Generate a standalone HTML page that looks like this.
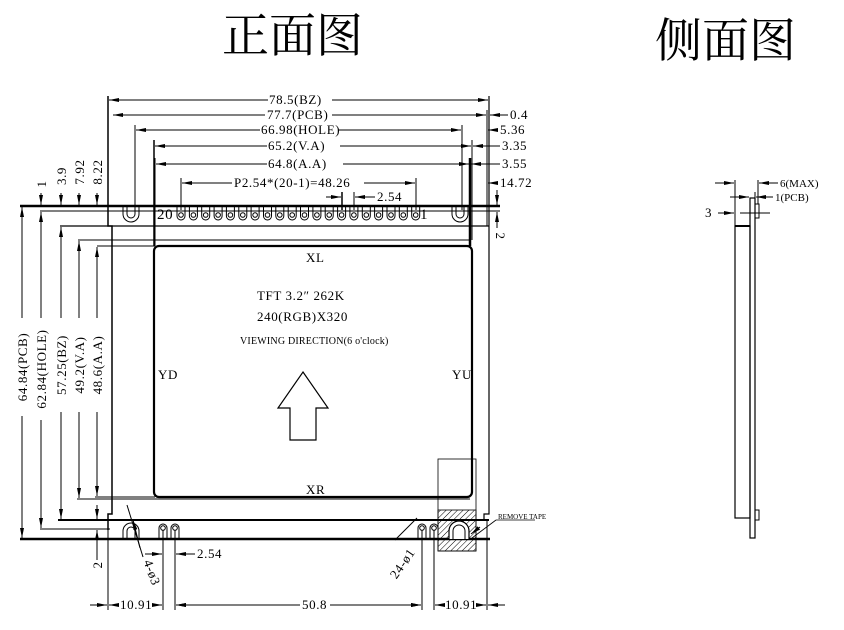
<!DOCTYPE html>
<html><head><meta charset="utf-8"><style>
html,body{margin:0;padding:0;background:#fff;}
svg{display:block}
text{font-family:"Liberation Serif","Noto Serif CJK SC",serif;fill:#000}
</style></head><body>
<svg width="844" height="630" viewBox="0 0 844 630" xmlns="http://www.w3.org/2000/svg">
<defs>
<marker id="a" viewBox="0 0 10 6" refX="10" refY="3" markerWidth="10" markerHeight="6" orient="auto-start-reverse" markerUnits="userSpaceOnUse"><path d="M0,1 L10,3 L0,5 Z" fill="#000"/></marker>
<g id="pin"><path d="M-4,206 V216 A4,4 0 0 0 4,216 V206" fill="none" stroke="#000" stroke-width="1"/><circle cx="0" cy="215" r="2.3" fill="none" stroke="#000" stroke-width="1"/></g>
<pattern id="h" width="4" height="4" patternUnits="userSpaceOnUse" patternTransform="rotate(45)"><line x1="0" y1="0" x2="0" y2="4" stroke="#000" stroke-width="1"/></pattern>
</defs>
<text x="222" y="52" font-size="47" font-family="Noto Serif CJK SC,serif">正面图</text>
<text x="655" y="57" font-size="47" font-family="Noto Serif CJK SC,serif">侧面图</text>

<g stroke="#000" fill="none">
<line x1="20" y1="206" x2="500" y2="206" stroke-width="2.5"/>
<line x1="40" y1="211" x2="500" y2="211" stroke-width="1"/>
<line x1="60" y1="226" x2="489" y2="226" stroke-width="1.2"/>
<line x1="78" y1="240" x2="470" y2="240" stroke-width="1"/>
<line x1="97" y1="246" x2="155" y2="246" stroke-width="1"/>
<line x1="77" y1="499" x2="470" y2="499" stroke-width="1"/>
<line x1="95" y1="497" x2="155" y2="497" stroke-width="1"/>
<line x1="58" y1="520" x2="489" y2="520" stroke-width="2"/>
<line x1="40" y1="529" x2="110" y2="529" stroke-width="1"/>
<line x1="20" y1="539" x2="490" y2="539" stroke-width="2.5"/>
<path d="M108,96 V226 H112 V514 H108 V530" stroke-width="1.5"/>
<path d="M489,96 V514 H484 V520" stroke-width="1.2"/>
<line x1="487" y1="110" x2="487" y2="226" stroke-width="1"/>
<line x1="154" y1="140" x2="154" y2="246" stroke-width="1.5"/>
<line x1="155" y1="158" x2="155" y2="246" stroke-width="1"/>
<line x1="470" y1="158" x2="470" y2="246" stroke-width="2.5"/>
<line x1="472" y1="140" x2="472" y2="240" stroke-width="1"/>
<line x1="135" y1="125" x2="135" y2="206" stroke-width="1"/>
<line x1="462" y1="125" x2="462" y2="210" stroke-width="1"/>
<line x1="181" y1="178" x2="181" y2="210" stroke-width="1"/>
<line x1="416" y1="178" x2="416" y2="210" stroke-width="1"/>
<line x1="342" y1="192" x2="342" y2="210" stroke-width="1.5"/>
<line x1="354" y1="192" x2="354" y2="210" stroke-width="1"/>
<rect x="154" y="246" width="318" height="251" rx="5" stroke-width="2.2"/>
<path d="M123,206 V214 A8,8 0 0 0 139,214 V206" stroke-width="1"/>
<path d="M127,206 V214 A4,4 0 0 0 135,214 V206" stroke-width="1"/>
<path d="M452,206 V214 A8,8 0 0 0 468,214 V206" stroke-width="1"/>
<path d="M456,206 V214 A4,4 0 0 0 464,214 V206" stroke-width="1"/>
<path d="M123,539 V531 A8,8 0 0 1 139,531 V539" stroke-width="1"/>
<path d="M127,539 V531 A4,4 0 0 1 135,531 V539" stroke-width="1"/>
<path d="M159,539 V528 A4,4 0 0 1 167,528 V539" stroke-width="1"/>
<circle cx="163" cy="528" r="2.3" stroke-width="1"/>
<path d="M171,539 V528 A4,4 0 0 1 179,528 V539" stroke-width="1"/>
<circle cx="175" cy="528" r="2.3" stroke-width="1"/>
<path d="M418,539 V528 A4,4 0 0 1 426,528 V539" stroke-width="1"/>
<circle cx="422" cy="528" r="2.3" stroke-width="1"/>
<path d="M430,539 V528 A4,4 0 0 1 438,528 V539" stroke-width="1"/>
<circle cx="434" cy="528" r="2.3" stroke-width="1"/>
<rect x="438" y="459" width="38" height="92" stroke-width="0.8"/>
<rect x="438" y="510" width="38" height="41" fill="url(#h)" stroke-width="0.8"/>
<path d="M449,539 V531 A10,10 0 0 1 469,531 V539" stroke-width="1.2" fill="#fff"/>
<path d="M453,539 V531 A6,6 0 0 1 465,531 V539" stroke-width="1"/>
<line x1="472" y1="538" x2="496" y2="520" stroke-width="0.8"/>
<line x1="496" y1="520" x2="535" y2="520" stroke-width="0.8"/>
<line x1="108" y1="530" x2="108" y2="610" stroke-width="1"/>
<line x1="163" y1="530" x2="163" y2="610" stroke-width="1"/>
<line x1="175" y1="530" x2="175" y2="610" stroke-width="1"/>
<line x1="422" y1="530" x2="422" y2="610" stroke-width="1"/>
<line x1="434" y1="530" x2="434" y2="610" stroke-width="1"/>
<line x1="487" y1="520" x2="487" y2="610" stroke-width="1"/>
<line x1="127" y1="505" x2="143" y2="557" stroke-width="1"/>
<line x1="417" y1="518" x2="395" y2="540" stroke-width="1"/>
<path d="M303,372 L328,408 H316 V440 H290 V408 H278 Z" stroke-width="1.2"/>
<rect x="735" y="226" width="15" height="292" stroke-width="1.2"/>
<rect x="750" y="198" width="5" height="340" stroke-width="1.2"/>
<rect x="755" y="204" width="4" height="14" stroke-width="1"/>
<rect x="755" y="510" width="4" height="10" stroke-width="1"/>
<line x1="735" y1="180" x2="735" y2="226" stroke-width="1"/>
<line x1="758" y1="180" x2="758" y2="204" stroke-width="1"/>
<line x1="735" y1="226" x2="750" y2="226" stroke-width="2"/>
</g>
<g>
<use href="#pin" x="181"/><use href="#pin" x="193.4"/><use href="#pin" x="205.7"/><use href="#pin" x="218.1"/><use href="#pin" x="230.4"/><use href="#pin" x="242.8"/><use href="#pin" x="255.1"/><use href="#pin" x="267.5"/><use href="#pin" x="279.8"/><use href="#pin" x="292.2"/><use href="#pin" x="304.5"/><use href="#pin" x="316.9"/><use href="#pin" x="329.2"/><use href="#pin" x="341.6"/><use href="#pin" x="353.9"/><use href="#pin" x="366.3"/><use href="#pin" x="378.6"/><use href="#pin" x="391"/><use href="#pin" x="403.3"/><use href="#pin" x="415.7"/>
</g>

<g stroke="#000" stroke-width="1" marker-end="url(#a)">
<line x1="268" y1="100" x2="109" y2="100"/><line x1="332" y1="100" x2="488" y2="100"/>
<line x1="265" y1="115" x2="113" y2="115"/><line x1="332" y1="115" x2="486" y2="115"/>
<line x1="260" y1="130" x2="136" y2="130"/><line x1="338" y1="130" x2="461" y2="130"/>
<line x1="267" y1="146" x2="155" y2="146"/><line x1="340" y1="146" x2="471" y2="146"/>
<line x1="267" y1="164" x2="156" y2="164"/><line x1="343" y1="164" x2="469" y2="164"/>
<line x1="232" y1="183" x2="182" y2="183"/><line x1="364" y1="183" x2="415" y2="183"/>
<line x1="326" y1="197" x2="341" y2="197"/><line x1="375" y1="197" x2="355" y2="197"/>
<line x1="508" y1="115" x2="490" y2="115"/>
<line x1="498" y1="130" x2="488" y2="130"/>
<line x1="500" y1="146" x2="473" y2="146"/>
<line x1="500" y1="164" x2="471" y2="164"/>
<line x1="498" y1="183" x2="488" y2="183"/>
<line x1="497" y1="190" x2="497" y2="205"/><line x1="497" y1="228" x2="497" y2="212"/>
<line x1="22" y1="318" x2="22" y2="207"/><line x1="22" y1="416" x2="22" y2="538"/>
<line x1="41" y1="318" x2="41" y2="212"/><line x1="41" y1="420" x2="41" y2="528"/>
<line x1="61" y1="318" x2="61" y2="227"/><line x1="61" y1="412" x2="61" y2="519"/>
<line x1="79" y1="318" x2="79" y2="241"/><line x1="79" y1="412" x2="79" y2="498"/>
<line x1="97" y1="318" x2="97" y2="247"/><line x1="97" y1="412" x2="97" y2="496"/>
<line x1="41" y1="193" x2="41" y2="205"/>
<line x1="61" y1="193" x2="61" y2="205"/>
<line x1="79" y1="193" x2="79" y2="205"/>
<line x1="97" y1="193" x2="97" y2="205"/>
<line x1="97" y1="505" x2="97" y2="519"/><line x1="97" y1="560" x2="97" y2="530"/>
<line x1="90" y1="605" x2="107" y2="605"/><line x1="118" y1="605" x2="109" y2="605"/>
<line x1="155" y1="605" x2="162" y2="605"/><line x1="185" y1="605" x2="176" y2="605"/>
<line x1="300" y1="605" x2="176" y2="605"/><line x1="330" y1="605" x2="421" y2="605"/>
<line x1="412" y1="605" x2="421" y2="605"/><line x1="445" y1="605" x2="435" y2="605"/>
<line x1="484" y1="605" x2="486" y2="605"/><line x1="505" y1="605" x2="488" y2="605"/>
<line x1="145" y1="554" x2="162" y2="554"/><line x1="195" y1="554" x2="176" y2="554"/>
<line x1="140" y1="548" x2="133" y2="520"/>
<line x1="480" y1="527" x2="471" y2="534"/>
<line x1="715" y1="183" x2="734" y2="183"/><line x1="778" y1="183" x2="759" y2="183"/>
<line x1="730" y1="197" x2="749" y2="197"/><line x1="773" y1="197" x2="756" y2="197"/>
<line x1="718" y1="213" x2="734" y2="213"/>
</g>
<g stroke="#000" stroke-width="1">
<line x1="755" y1="192" x2="755" y2="198"/>
<line x1="740" y1="213" x2="770" y2="213"/>
</g>

<g font-size="13" letter-spacing="0.6">
<text x="269" y="104">78.5(BZ)</text>
<text x="267" y="119">77.7(PCB)</text>
<text x="261" y="134">66.98(HOLE)</text>
<text x="268" y="150">65.2(V.A)</text>
<text x="268" y="168">64.8(A.A)</text>
<text x="234" y="187">P2.54*(20-1)=48.26</text>
<text x="377" y="201">2.54</text>
<text x="510" y="119">0.4</text>
<text x="500" y="134">5.36</text>
<text x="502" y="150">3.35</text>
<text x="502" y="168">3.55</text>
<text x="500" y="187">14.72</text>
<text x="120" y="609">10.91</text>
<text x="302" y="609">50.8</text>
<text x="445" y="609">10.91</text>
<text x="197" y="558">2.54</text>
<text x="780" y="187" font-size="11" letter-spacing="0">6(MAX)</text>
<text x="775" y="201" font-size="11" letter-spacing="0">1(PCB)</text>
<text x="705" y="217">3</text>
<text x="157" y="219" font-size="15">20</text>
<text x="420" y="219" font-size="15">1</text>
<text x="306" y="262">XL</text>
<text x="306" y="494">XR</text>
<text x="158" y="379">YD</text>
<text x="452" y="379">YU</text>
<text x="257" y="300">TFT 3.2″  262K</text>
<text x="257" y="321">240(RGB)X320</text>
<text x="240" y="344" font-size="10" letter-spacing="0.2">VIEWING DIRECTION(6 o'clock)</text>
<text x="498" y="519" font-size="7" letter-spacing="0">REMOVE TAPE</text>
</g>
<g font-size="13" letter-spacing="0.6" text-anchor="middle">
<text transform="translate(27,367) rotate(-90)">64.84(PCB)</text>
<text transform="translate(46,369) rotate(-90)">62.84(HOLE)</text>
<text transform="translate(66,365) rotate(-90)">57.25(BZ)</text>
<text transform="translate(84,365) rotate(-90)">49.2(V.A)</text>
<text transform="translate(102,365) rotate(-90)">48.6(A.A)</text>
<text transform="translate(46,184) rotate(-90)">1</text>
<text transform="translate(66,176) rotate(-90)">3.9</text>
<text transform="translate(84,172) rotate(-90)">7.92</text>
<text transform="translate(102,172) rotate(-90)">8.22</text>
<text transform="translate(102,565) rotate(-90)">2</text>
<text transform="translate(496,236) rotate(90)">2</text>
<text transform="translate(148,574) rotate(70)">4-ø3</text>
<text transform="translate(406,566) rotate(-55)">24-ø1</text>
</g>
</svg>
</body></html>
